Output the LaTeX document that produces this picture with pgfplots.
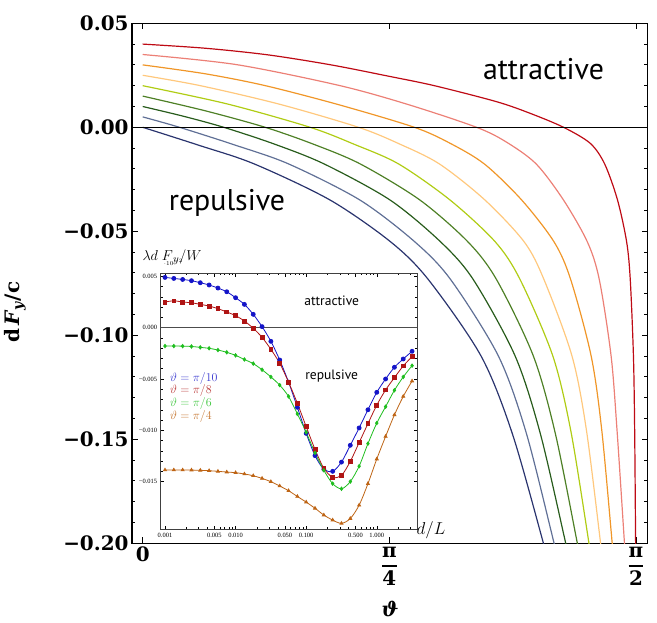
\documentclass[border=0pt]{standalone}
\usepackage[no-math]{fontspec}
\usepackage{amsmath}
\usepackage{pgfplots}
\usepackage{pgfplotstable}
\pgfplotsset{compat=1.18}
\setmainfont{DejaVu Serif}
\newfontfamily\labelsans{PT Sans}
\newfontfamily\smallserif{Liberation Serif}

% main curves, dark blue -> dark red
\definecolor{cNavy}{RGB}{42,52,110}
\definecolor{cSlate}{RGB}{96,112,150}
\definecolor{cDkGreen}{RGB}{40,92,28}
\definecolor{cGreen}{RGB}{78,128,38}
\definecolor{cYG}{RGB}{176,204,20}
\definecolor{cPeach}{RGB}{255,200,125}
\definecolor{cOrange}{RGB}{240,150,40}
\definecolor{cSalmon}{RGB}{236,128,118}
\definecolor{cRed}{RGB}{190,10,20}
% inset
\definecolor{iBlue}{RGB}{20,20,200}
\definecolor{iRed}{RGB}{175,20,20}
\definecolor{iGreen}{RGB}{30,190,30}
\definecolor{iBrown}{RGB}{190,100,20}

\protected\def\mn{\char"2212\relax}
\protected\def\fracpi#1{$\displaystyle\genfrac{}{}{1.4pt}{0}{\text{\bfseries π}}{\text{\bfseries #1}}$}

% inset data: d/L, pi/10, pi/8, pi/6, pi/4
\pgfplotstableread{
x          blue      red       green     brown
0.001      0.0049    0.0025   -0.00179  -0.01387
0.0013335  0.0048    0.00262  -0.00179  -0.01387
0.0017783  0.0047    0.0025   -0.00180  -0.01387
0.0023714  0.00458   0.00243  -0.00183  -0.01388
0.0031623  0.00438   0.00227  -0.00192  -0.0139
0.0042170  0.00416   0.00211  -0.00201  -0.01394
0.0056234  0.00386   0.00185  -0.00218  -0.0140
0.0074989  0.0035    0.00153  -0.0024   -0.01407
0.01       0.00292   0.00117  -0.0027   -0.01413
0.013335   0.00227   0.00065  -0.0031   -0.01426
0.017783   0.0013   -0.00006  -0.0035   -0.01443
0.023714   0.0001   -0.00094  -0.0041   -0.01469
0.031623  -0.00133  -0.00211  -0.0048   -0.01501
0.042170  -0.00315  -0.00347  -0.0056   -0.01543
0.056234  -0.0053   -0.0053   -0.0067   -0.01589
0.074989  -0.00776  -0.00737  -0.0084   -0.01645
0.1       -0.0103   -0.00964  -0.0102   -0.0170
0.13335   -0.01247  -0.01186  -0.0122   -0.0176
0.17783   -0.0138   -0.0137   -0.0139   -0.01826
0.23714   -0.0140   -0.01458  -0.0152   -0.01875
0.31623   -0.0131   -0.01440  -0.0157   -0.01907
0.42170   -0.01146  -0.01303  -0.0150   -0.0186
0.56234   -0.00977  -0.0112   -0.0135   -0.0173
0.74989   -0.0080   -0.00935  -0.0113   -0.0152
1.0       -0.0063   -0.00755  -0.0093   -0.0128
1.3335    -0.0050   -0.00607  -0.0077   -0.0106
1.7783    -0.00386  -0.00487  -0.0061   -0.0085
2.3714    -0.00305  -0.00373  -0.0048   -0.0067
3.1623    -0.0023   -0.00282  -0.0037   -0.0052
}\insetdata

\begin{document}
\begin{tikzpicture}
\begin{axis}[
  at={(0,0)}, anchor=south west,
  scale only axis, width=515.7bp, height=520bp,
  xmin=-0.0341, xmax=1.608, ymin=-0.2, ymax=0.05,
  axis line style={line width=1.1pt},
  xtick={0,0.785398,1.570796},
  xticklabels={\textbf{0},\fracpi{4},\fracpi{2}},
  ytick={-0.2,-0.15,-0.1,-0.05,0,0.05},
  yticklabels={\mn0.20,\mn0.15,\mn0.10,\mn0.05,0.00,0.05},
  minor y tick num=4,
  major tick length=6bp, minor tick length=3.5bp,
  every tick/.style={black, line width=0.9pt},
  tick label style={font=\fontsize{20}{22}\selectfont\bfseries},
]
\addplot[cNavy, line width=1.2pt, smooth] coordinates {(0,0) (0.18,-0.0087) (0.3556,-0.01764) (0.597,-0.035) (0.790,-0.05514) (0.910,-0.0733) (1.0775,-0.11) (1.1768,-0.1472) (1.276,-0.2) (1.292,-0.21)};
\addplot[cSlate, line width=1.2pt, smooth] coordinates {(0,0.005) (0.117,0) (0.291,-0.0084) (0.465,-0.01764) (0.692,-0.035) (0.867,-0.05514) (0.981,-0.0733) (1.1327,-0.11) (1.2214,-0.147) (1.310,-0.2) (1.327,-0.21)};
\addplot[cDkGreen, line width=1.2pt, smooth] coordinates {(0,0.010) (0.13,0.0053) (0.258,0) (0.418,-0.0080) (0.578,-0.01764) (0.788,-0.035) (0.949,-0.05514) (1.053,-0.0733) (1.186,-0.11) (1.2665,-0.1475) (1.347,-0.2) (1.362,-0.21)};
\addplot[cGreen, line width=1.2pt, smooth] coordinates {(0,0.015) (0.2,0.0079) (0.39,0) (0.5415,-0.0080) (0.693,-0.01764) (0.883,-0.035) (1.036,-0.05514) (1.127,-0.0733) (1.244,-0.11) (1.314,-0.1473) (1.384,-0.2) (1.397,-0.21)};
\addplot[cYG, line width=1.2pt, smooth] coordinates {(0,0.020) (0.27,0.0112) (0.533,0) (0.674,-0.0082) (0.815,-0.01764) (0.979,-0.035) (1.123,-0.05514) (1.202,-0.0733) (1.306,-0.11) (1.3635,-0.1462) (1.421,-0.2) (1.43,-0.21)};
\addplot[cPeach, line width=1.2pt, smooth] coordinates {(0,0.025) (0.184,0.020) (0.4355,0.0111) (0.687,0) (0.816,-0.0079) (0.945,-0.01764) (1.090,-0.035) (1.215,-0.05514) (1.278,-0.0733) (1.367,-0.11) (1.4125,-0.1452) (1.458,-0.2) (1.465,-0.21)};
\addplot[cOrange, line width=1.2pt, smooth] coordinates {(0,0.030) (0.2,0.0257) (0.391,0.020) (0.628,0.0107) (0.865,0) (0.9765,-0.0075) (1.088,-0.01764) (1.207,-0.035) (1.310,-0.05514) (1.363,-0.0733) (1.428,-0.11) (1.4615,-0.1453) (1.495,-0.2) (1.501,-0.21)};
\addplot[cSalmon, line width=1.2pt, smooth] coordinates {(0,0.035) (0.3,0.0301) (0.629,0.020) (0.846,0.0109) (1.063,0) (1.158,-0.0071) (1.253,-0.01764) (1.340,-0.035) (1.416,-0.05514) (1.454,-0.0733) (1.4915,-0.11) (1.5105,-0.146) (1.534,-0.2) (1.538,-0.21)};
\addplot[cRed, line width=1.2pt, smooth] coordinates {(0,0.040) (0.2,0.0380) (0.4,0.0348) (0.6,0.0300) (0.785,0.0245) (0.929,0.020) (1.127,0.0123) (1.234,0.0067) (1.34,0) (1.425,-0.0077) (1.471,-0.01764) (1.512,-0.035) (1.541,-0.05514) (1.5525,-0.0733) (1.5626,-0.11) (1.5665,-0.146) (1.5695,-0.2) (1.5700,-0.21)};
\addplot[black, line width=1pt] coordinates {(-0.05,0) (1.7,0)};
\end{axis}

\begin{axis}[
  at={(28.7bp,14bp)}, anchor=south west,
  scale only axis, width=256.6bp, height=256bp,
  xmode=log, xmin=0.000869, xmax=3.75, ymin=-0.01965, ymax=0.0053,
  axis background/.style={fill=white},
  axis line style={line width=0.6pt, black!75},
  xtick={0.001,0.005,0.01,0.05,0.1,0.5,1},
  xticklabels={0.001,0.005,0.010,0.050,0.100,0.500,1.000},
  minor xtick={0.002,0.003,0.004,0.006,0.007,0.008,0.009,0.02,0.03,0.04,0.06,0.07,0.08,0.09,0.2,0.3,0.4,0.6,0.7,0.8,0.9,2,3},
  ytick={-0.015,-0.01,-0.005,0,0.005},
  yticklabels={\mn0.015,\mn0.010,\mn0.005,0.000,0.005},
  minor y tick num=4,
  major tick length=3.5bp, minor tick length=2bp,
  every tick/.style={black, line width=0.5pt},
  tick label style={font=\smallserif\fontsize{6.5}{7}\selectfont},
]
\addplot[black!70, line width=1.2pt] coordinates {(0.0005,0) (5,0)};
\addplot[iBlue, line width=0.8pt, smooth, mark=*, mark size=2pt] table[x=x, y=blue] {\insetdata};
\addplot[iRed, line width=0.8pt, smooth, mark=square*, mark size=1.9pt] table[x=x, y=red] {\insetdata};
\addplot[iGreen, line width=0.8pt, smooth, mark=diamond*, mark size=1.7pt] table[x=x, y=green] {\insetdata};
\addplot[iBrown, line width=0.8pt, smooth, mark=triangle*, mark size=1.7pt] table[x=x, y=brown] {\insetdata};
\end{axis}

% texts, in bp from the main frame's lower left corner
\node[font=\labelsans\fontsize{30}{30}\selectfont, anchor=base] at (411.5bp,464bp) {attractive};
\node[font=\labelsans\fontsize{30}{30}\selectfont, anchor=base] at (95bp,333.2bp) {repulsive};
\node[font=\labelsans\fontsize{13.6}{14}\selectfont, anchor=base] at (199.7bp,237.8bp) {attractive};
\node[font=\labelsans\fontsize{13.6}{14}\selectfont, anchor=base] at (199.7bp,163.3bp) {repulsive};
\node[anchor=west, text=iBlue!85, font=\fontsize{12.5}{13}\selectfont, inner sep=0pt] at (38bp,165bp) {$\vartheta=\pi/10$};
\node[anchor=west, text=iRed!85, font=\fontsize{12.5}{13}\selectfont, inner sep=0pt] at (38bp,152.3bp) {$\vartheta=\pi/8$};
\node[anchor=west, text=iGreen!85, font=\fontsize{12.5}{13}\selectfont, inner sep=0pt] at (38bp,139.3bp) {$\vartheta=\pi/6$};
\node[anchor=west, text=iBrown!90, font=\fontsize{12.5}{13}\selectfont, inner sep=0pt] at (38bp,126.6bp) {$\vartheta=\pi/4$};
\node[rotate=90, font=\fontsize{20}{22}\selectfont\bfseries] at (-117bp,231bp) {d\,\textit{F}\textsubscript{\textit{y}}/c};
\node[font=\fontsize{20}{21}\selectfont\bfseries\itshape, inner sep=0pt] at (258bp,-66bp) {ϑ};
\node[font=\fontsize{16}{17}\selectfont] at (299bp,13.3bp) {$d/L$};
\node[font=\fontsize{15}{16}\selectfont] at (40bp,286.3bp) {$\lambda d\;F{}_{y}/W$};

\pgfresetboundingbox
\path[use as bounding box] (-132bp,-79.7bp) rectangle (525bp,543.3bp);
\end{tikzpicture}
\end{document}
